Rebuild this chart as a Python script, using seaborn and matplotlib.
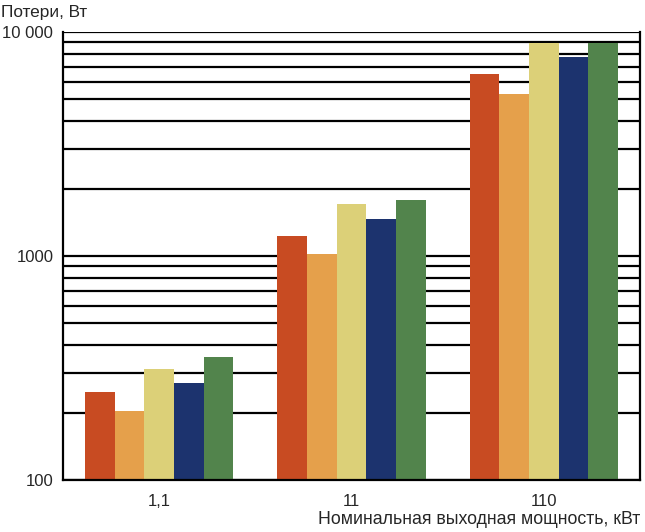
import pandas as pd
import seaborn as sns
import matplotlib
matplotlib.use("Agg")
import matplotlib.pyplot as plt
from matplotlib.ticker import FixedLocator, FixedFormatter, LogLocator, NullFormatter

# data
powers = ["1,1", "11", "110"]
series = ["s1", "s2", "s3", "s4", "s5"]
loss_1_1 = [246, 204, 313, 271, 355]
loss_11 = [1232, 1024, 1707, 1458, 1778]
loss_110 = [6474, 5305, 8900, 7709, 8900]
colors = ["#C84B22", "#E5A04B", "#DCD078", "#1C336E", "#52844C"]

y_ticks = [100, 1000, 10000]
y_labels = ["100", "1000", "10 000"]

rows = []
for p, vals in zip(powers, [loss_1_1, loss_11, loss_110]):
    for s, v in zip(series, vals):
        rows.append({"power": p, "series": s, "loss": v})
df = pd.DataFrame(rows)

sns.set_style("white")
plt.rcParams["font.family"] = ["Liberation Sans", "DejaVu Sans"]

fig = plt.figure(figsize=(6.45, 5.32), dpi=100)
ax = fig.add_axes([63 / 645, 52 / 532, 577 / 645, 448 / 532])

sns.barplot(
    data=df,
    x="power",
    y="loss",
    hue="series",
    palette=colors,
    width=0.77,
    gap=0,
    saturation=1,
    legend=False,
    linewidth=0,
    edgecolor="none",
    ax=ax,
)

ax.set_yscale("log")
ax.set_ylim(100, 10000)
ax.set_xlim(-0.5, 2.5)

ax.yaxis.set_major_locator(FixedLocator(y_ticks))
ax.yaxis.set_major_formatter(FixedFormatter(y_labels))
ax.yaxis.set_minor_locator(LogLocator(base=10, subs=range(2, 10)))
ax.yaxis.set_minor_formatter(NullFormatter())
ax.grid(True, axis="y", which="both", color="black", linewidth=1.6)
ax.set_axisbelow(True)

ax.set_xticks([0, 1, 2])
ax.set_xticks([0.5, 1.5], minor=True)
ax.tick_params(axis="x", which="both", direction="out", length=7, width=1.5,
               color="black", labelsize=12, pad=3)
ax.tick_params(axis="y", which="major", direction="out", length=5, width=1.5,
               color="black", labelsize=12, pad=2)
ax.tick_params(axis="y", which="minor", length=0)

for side in ["left", "bottom", "right"]:
    ax.spines[side].set_visible(True)
    ax.spines[side].set_color("black")
    ax.spines[side].set_linewidth(1.6)
ax.spines["top"].set_visible(False)

ax.set_xlabel("")
ax.set_ylabel("")

fig.text(0.002, 1 - 13 / 532, "Потери, Вт", ha="left", va="center", fontsize=12.4)
fig.text(640 / 645, 1 - 520 / 532, "Номинальная выходная мощность, кВт",
         ha="right", va="center", fontsize=12.8)

plt.savefig("out.png", dpi=100, facecolor="white")
